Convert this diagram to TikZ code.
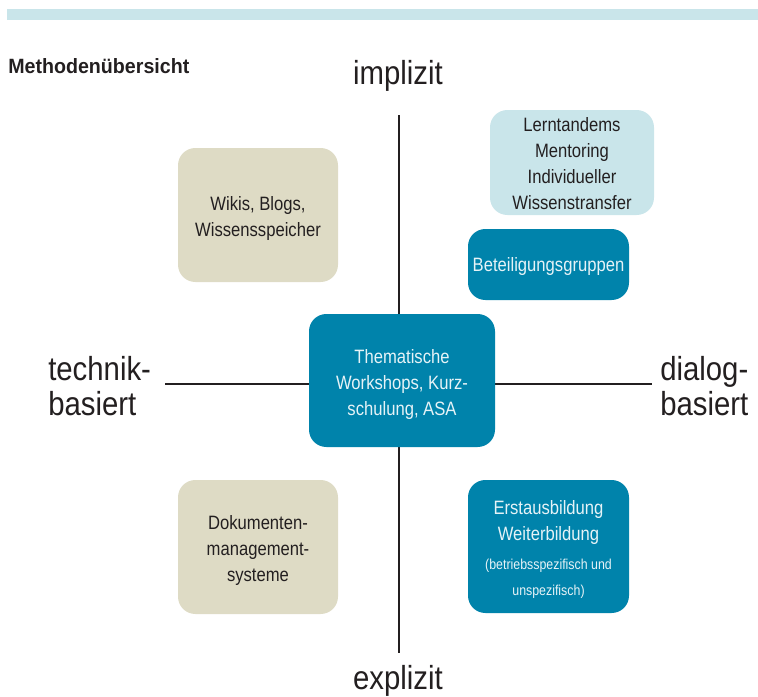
\documentclass[tikz,border=0pt]{standalone}
\usepackage{fontspec}
\setmainfont{Liberation Sans}[FakeStretch=0.86]
\newfontfamily\axisfont{Liberation Sans}[FakeStretch=0.88]
\newfontfamily\titlefont{Liberation Sans}[FakeStretch=0.95]
\definecolor{barblue}{HTML}{C9E5EA}
\definecolor{lightbox}{HTML}{C9E5EA}
\definecolor{beige}{HTML}{DEDBC5}
\definecolor{teal}{HTML}{0083AB}
\definecolor{ink}{HTML}{231F20}
\definecolor{pale}{HTML}{E6F3F7}
\begin{document}
\begin{tikzpicture}[x=0.75pt,y=-0.75pt,
  box/.style={rounded corners=13pt, inner sep=0pt},
  boxtext/.style={inner sep=0pt, align=center, font=\fontsize{14.5}{19.5}\selectfont},
  beigebox/.style={box, fill=beige},
  lightbluebox/.style={box, fill=lightbox},
  tealbox/.style={box, fill=teal},
  darktext/.style={boxtext, text=ink},
  palettext/.style={boxtext, text=pale},
  axis/.style={line width=2.2pt, draw=ink},
  axlabel/.style={font=\axisfont\fontsize{25}{26.5}\selectfont, text=ink, inner sep=0pt}]
\useasboundingbox (0,0) rectangle (758,697);
\fill[barblue] (7,9) rectangle (758,20);
\node[anchor=west, font=\titlefont\bfseries\fontsize{15.5}{18}\selectfont, text=ink, inner sep=0pt] (title) at (8,66) {Methodenübersicht};
% axes
\coordinate (top) at (399,115);
\coordinate (bot) at (399,653);
\coordinate (left) at (165,384);
\coordinate (right) at (652,384);
\draw[axis] (top) -- (bot);
\draw[axis] (left) -- (right);
\node[axlabel] (impl) at (398,76) {implizit};
\node[axlabel] (expl) at (398,681) {explizit};
\node[axlabel, anchor=west, align=left] (tech) at (48,386) {technik-\\basiert};
\node[axlabel, anchor=west, align=left] (dial) at (660,386) {dialog-\\basiert};
% boxes
\node[beigebox, minimum width=120pt, minimum height=100.5pt] (wiki) at (258,215) {};
\node[darktext] (wikit) at (258,218) {Wikis, Blogs,\\Wissensspeicher};
\node[beigebox, minimum width=120pt, minimum height=100.5pt] (dms) at (258,547) {};
\node[darktext] (dmst) at (258,550) {Dokumenten-\\management-\\systeme};
\node[lightbluebox, minimum width=123pt, minimum height=78.75pt] (lern) at (572,162.5) {};
\node[darktext] (lernt) at (572,164) {Lerntandems\\Mentoring\\Individueller\\Wissenstransfer};
\node[tealbox, minimum width=120.75pt, minimum height=53.25pt] (bet) at (548.5,264.5) {};
\node[palettext] (bett) at (548.5,266.5) {Beteiligungsgruppen};
\node[tealbox, minimum width=139.5pt, minimum height=99.75pt] (them) at (402,380.5) {};
\node[palettext] (themt) at (402,384.5) {Thematische\\Workshops, Kurz-\\schulung, ASA};
\node[tealbox, minimum width=120.75pt, minimum height=99.75pt] (erst) at (548.5,546.5) {};
\node[palettext] (erstt) at (548.5,549.5) {Erstausbildung\\Weiterbildung\\[2pt]{\fontsize{10.8}{19.5}\selectfont(betriebsspezifisch und}\\{\fontsize{10.8}{19.5}\selectfont unspezifisch)}};
\end{tikzpicture}
\end{document}
